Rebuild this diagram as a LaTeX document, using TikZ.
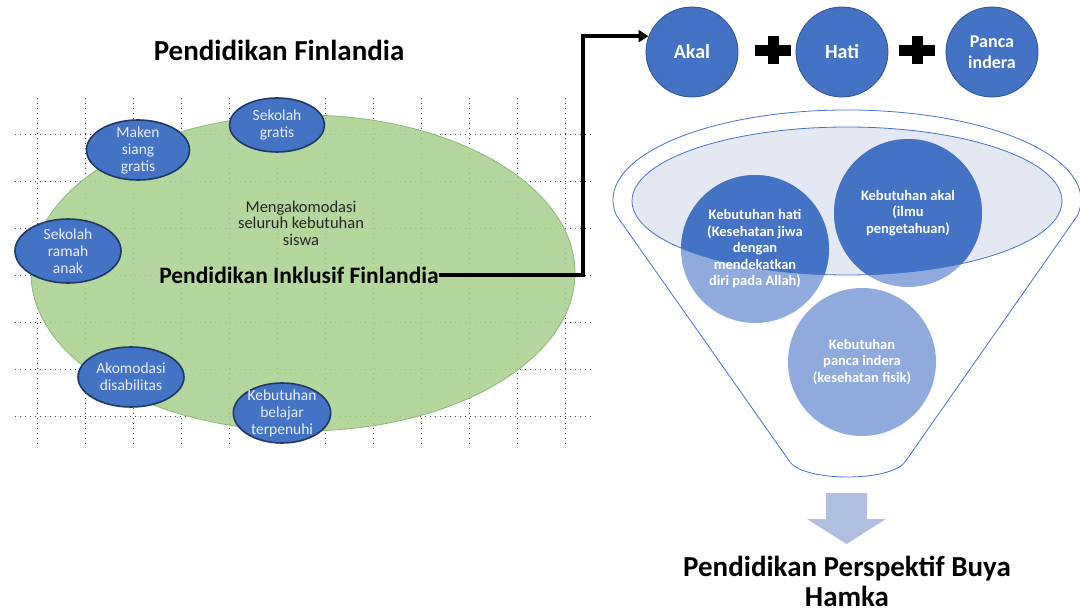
\documentclass[tikz,border=0pt]{standalone}
\usepackage{fontspec}
\setmainfont{Carlito}
\usetikzlibrary{shapes.geometric,arrows.meta}
\definecolor{wordblue}{HTML}{4472C4}
\definecolor{darkblue}{HTML}{203864}
\definecolor{lineblue}{HTML}{2F528F}
\definecolor{lightblue}{HTML}{8FAADC}
\definecolor{lavender}{HTML}{E4E8F3}
\definecolor{leafgreen}{HTML}{A9D18E}
\definecolor{leafline}{HTML}{8CB872}
\definecolor{arrowblue}{HTML}{B0BFE0}
\tikzset{
  bubble/.style={ellipse, draw=darkblue, line width=1.6pt, fill=wordblue, text=white!88!wordblue,
    align=center, inner xsep=0pt, inner ysep=-10pt, font=\fontsize{15.5}{17}\selectfont},
  ball/.style={ellipse, draw=lineblue, line width=0.8pt, fill=wordblue, text=white, align=center,
    minimum width=92pt, minimum height=90pt, font=\bfseries\fontsize{20}{22}\selectfont},
  needtext/.style={circle, minimum size=148pt, inner sep=0pt, text=white, align=center,
    font=\bfseries\fontsize{14.5}{16.5}\selectfont},
  griddot/.style={black!75, line width=1pt, dash pattern=on 1pt off 4pt},
  heading/.style={align=center, font=\bfseries\fontsize{29}{30}\selectfont}
}
\begin{document}
\begin{tikzpicture}[x=1pt,y=-1pt]
\useasboundingbox (0,0) rectangle (1080,612);
\node[heading] (finlandia) at (279,50) {Pendidikan Finlandia};
% grid
\foreach \x in {37,85,...,565}
  \draw[griddot] (\x,98) -- (\x,445);
\foreach \y in {135,182,...,420}
  \draw[griddot] (15,\y) -- (592,\y);
\node[ellipse, minimum width=544pt, minimum height=316pt, fill=leafgreen, fill opacity=0.88,
  draw=leafline, line width=0.8pt] (field) at (303,273) {};
\node[align=center, text=black!85, font=\fontsize{16.5}{16.5}\selectfont] (siswa) at (301,223)
  {Mengakomodasi\\seluruh kebutuhan\\siswa};
\node[inner sep=0pt, font=\bfseries\fontsize{23.5}{26}\selectfont] (inklusif) at (299,275)
  {Pendidikan Inklusif Finlandia};
\node[bubble, minimum width=103pt, minimum height=60pt] (maken) at (138,150) {Maken\\siang\\gratis};
\node[bubble, minimum width=95pt, minimum height=54pt] (gratis) at (277,125) {Sekolah\\gratis};
\node[bubble, minimum width=106pt, minimum height=64pt] (ramah) at (68,251) {Sekolah\\ramah\\anak};
\node[bubble, minimum width=106pt, minimum height=60pt] (disabel) at (131,377) {Akomodasi\\disabilitas};
\node[bubble, minimum width=96pt, minimum height=60pt] (belajar) at (282,413) {Kebutuhan\\belajar\\terpenuhi};
% three parts
\node[ball] (akal) at (692,52) {Akal};
\node[ball] (hati) at (842,52) {Hati};
\node[ball, font=\bfseries\fontsize{18}{21}\selectfont] (panca) at (992,52) {Panca\\indera};
\foreach \x in {773,917} {
  \fill (\x-18,45) rectangle (\x+18,56);
  \fill (\x-5.5,36) rectangle (\x+5.5,64);
}
\coordinate (bend) at (583,0);
\draw[line width=4pt, -{Triangle[length=10pt,width=12pt]}] (inklusif.east) -- (inklusif.east -| bend) |- (akal.160);
% funnel
\draw[wordblue, line width=0.8pt] (616.6,215.6) -- (790,462) .. controls (805,482) and (890,482) .. (905,462)
  -- (1077.4,215.6) arc[start angle=10, end angle=-190, x radius=234, y radius=90] -- cycle;
\fill[lavender] (847,201) ellipse [x radius=215, y radius=74];
\coordinate (hatic) at (755,249);
\coordinate (akalc) at (908,213);
\coordinate (inderac) at (862,362);
\foreach \c in {hatic,akalc,inderac}
  \fill[lightblue] (\c) circle (74);
\begin{scope}
  \clip (847,201) ellipse [x radius=215, y radius=74];
  \foreach \c in {hatic,akalc,inderac}
    \fill[wordblue] (\c) circle (74);
\end{scope}
\draw[wordblue, line width=0.8pt] (847,201) ellipse [x radius=215, y radius=74];
\node[needtext] (kebhati) at (hatic) {Kebutuhan hati\\(Kesehatan jiwa\\dengan\\mendekatkan\\diri pada Allah)};
\node[needtext] (kebakal) at (akalc) {Kebutuhan akal\\(ilmu\\pengetahuan)};
\node[needtext] (kebindera) at (inderac) {Kebutuhan\\panca indera\\(kesehatan fisik)};
\fill[arrowblue] (826,493) -- (867,493) -- (867,519) -- (886,519) -- (846.5,544) -- (807,519) -- (826,519) -- cycle;
\node[heading] (buya) at (847,581) {Pendidikan Perspektif Buya\\Hamka};
\end{tikzpicture}
\end{document}
